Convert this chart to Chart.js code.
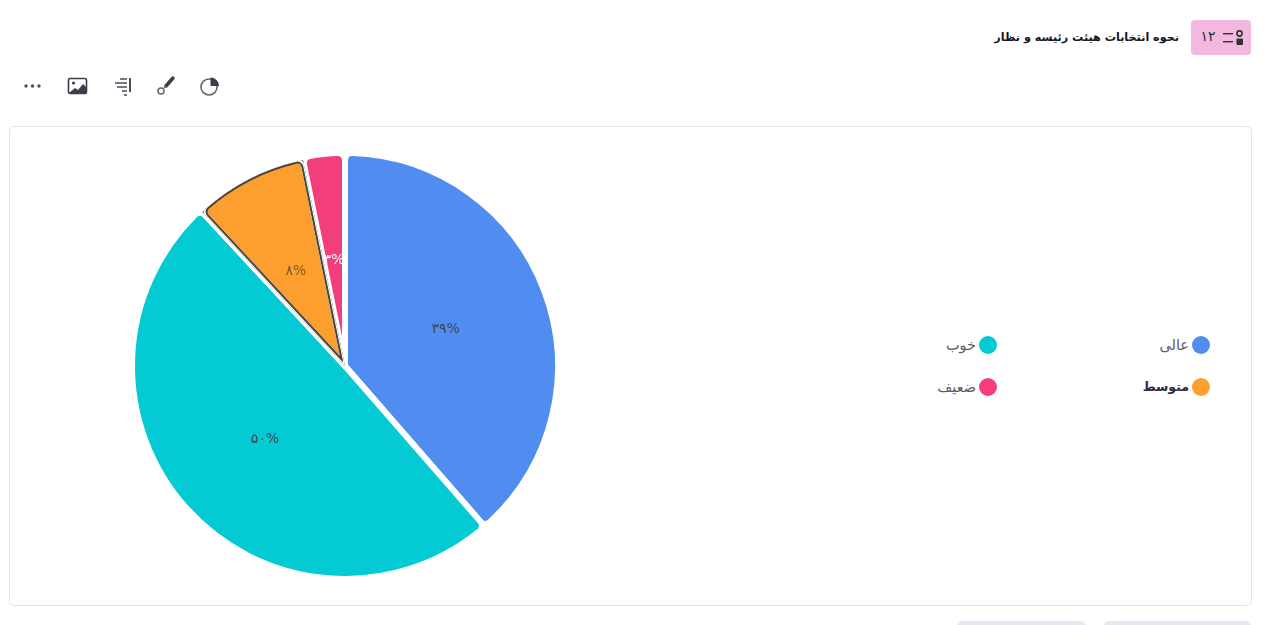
<!DOCTYPE html>
<html lang="fa">
<head>
<meta charset="utf-8">
<script src="https://cdn.jsdelivr.net/npm/chart.js@4"></script>
<style>
html,body{margin:0;padding:0;background:#fff;width:1280px;height:625px;overflow:hidden;font-family:"DejaVu Sans","Noto Sans",sans-serif}
.abs{position:absolute}
#card{left:9px;top:126px;width:1241px;height:478px;border:1px solid #dfe5ea;border-radius:5px;box-sizing:content-box}
#wrap{left:100px;top:126px;width:490px;height:480px}
#badge{left:1191px;top:20px;width:60px;height:35px;background:#f2b8df;border-radius:4px}
#num{left:1195px;top:28px;width:26px;text-align:center;font-size:14px;color:#2b2b35}
#title{right:101px;top:31px;font-size:11.2px;font-weight:700;color:#17171f;white-space:nowrap;direction:rtl}
.btn{top:621px;height:20px;background:#e8e6f4;border-radius:5px}
.dot{width:18px;height:18px;border-radius:50%}
.leg{font-size:14.500px;white-space:nowrap;direction:rtl;color:#5a5a64;line-height:18px}
</style>
</head>
<body>
<div id="card" class="abs"></div>
<div id="wrap" class="abs"><canvas id="c"></canvas></div>

<div id="badge" class="abs"></div>
<div id="num" class="abs">۱۲</div>
<svg class="abs" style="left:1222px;top:28px" width="24" height="20" viewBox="0 0 24 20">
  <rect x="1" y="5" width="10" height="1.400" fill="#333"/><rect x="1" y="13" width="10" height="1.400" fill="#333"/>
  <circle cx="17.500" cy="5.500" r="2.600" fill="none" stroke="#333" stroke-width="1.600"/><rect x="14.500" y="10.500" width="6.500" height="6.500" rx="1" fill="#333"/>
</svg>
<div id="title" class="abs">نحوه انتخابات هیئت رئیسه و نظار</div>

<svg class="abs" style="left:20px;top:74px" width="210" height="24" viewBox="0 0 210 24">
  <g fill="#4a4e5a"><circle cx="6" cy="12" r="1.700"/><circle cx="12.500" cy="12" r="1.700"/><circle cx="19" cy="12" r="1.700"/></g>
  <rect x="48.500" y="4.500" width="18" height="15" rx="1.500" fill="#fff" stroke="#3a3e4c" stroke-width="1.600"/>
  <path d="M49 19l6-5 3 2 5-6 4 4v5z" fill="#3a3e4c"/><circle cx="53.500" cy="9" r="1.600" fill="#3a3e4c"/>
  <g stroke="#4a4e5a" stroke-width="1.400" fill="none"><path d="M110 4v14" stroke-width="2"/><path d="M100 5h7M95 9h12M97 13h10M102 17h5M104 21h3"/></g>
  <path d="M153 4l-7 8" stroke="#3a3e4c" stroke-width="3.500" stroke-linecap="round"/>
  <circle cx="141" cy="17" r="3" fill="none" stroke="#666" stroke-width="1.500"/><path d="M144 14l2-2" stroke="#666" stroke-width="1.500"/>
  <circle cx="189" cy="13" r="8" fill="none" stroke="#666" stroke-width="1.600"/><path d="M190.500 3.500a8.500 8.500 0 0 1 8.500 8.500h-8.500z" fill="#3a3e4c"/>
</svg>

<div class="abs btn" style="left:957px;width:129px"></div>
<div class="abs btn" style="left:1104px;width:147px"></div>

<div id="legend"></div>

<script>
const categories = ["عالی", "خوب", "متوسط", "ضعیف"];
const seriesValues = [38.6, 49.5, 8.7, 3.2];
const valueLabels = ["۳۹%", "۵۰%", "۸%", "۳%"];
const sliceColors = ["#518df0", "#03cad3", "#fd9f2e", "#f23f7c"];
const labelColors = ["#3f4653", "#3f4653", "#7a5a2c", "#ffffff"];
const activeCategory = "متوسط";
const gapWidth = 6;
const outlineColor = "#454545";

// Dark outline of the highlighted slice, drawn over its white gap border
const activeOutline = {
  id: "activeOutline",
  afterDatasetsDraw(chart) {
    const ctx = chart.ctx;
    const arc = chart.getDatasetMeta(0).data[categories.indexOf(activeCategory)];
    const base = arc.options;
    const r = arc.outerRadius;
    const half = gapWidth / 2;
    ctx.save();
    ctx.beginPath();
    ctx.moveTo(arc.x, arc.y);
    ctx.arc(arc.x, arc.y, r - half, arc.startAngle, arc.endAngle);
    ctx.closePath();
    ctx.clip();
    arc.outerRadius = r - 2;
    [[gapWidth, outlineColor], [2, "#ffffff"]].forEach(([w, col]) => {
      arc.options = Object.assign({}, base, { backgroundColor: "rgba(0,0,0,0)", borderColor: col, borderWidth: w, borderAlign: "center", borderJoinStyle: "round" });
      arc.draw(ctx);
    });
    arc.outerRadius = r;
    arc.options = base;
    ctx.restore();
  }
};

const sliceLabels = {
  id: "sliceLabels",
  afterDatasetsDraw(chart) {
    const ctx = chart.ctx;
    const arcs = chart.getDatasetMeta(0).data;
    arcs.forEach((arc, i) => {
      const mid = (arc.startAngle + arc.endAngle) / 2;
      const r = arc.outerRadius * 0.505;
      ctx.save();
      if (i === arcs.length - 1) {           // the last label slips under the first slice
        ctx.beginPath();
        ctx.rect(0, 0, arc.x - 2, chart.height);
        ctx.clip();
      }
      ctx.font = '14px "DejaVu Sans", sans-serif';
      ctx.fillStyle = labelColors[i];
      ctx.textAlign = "center";
      ctx.textBaseline = "middle";
      ctx.direction = "ltr";
      ctx.fillText(valueLabels[i], arc.x + Math.cos(mid) * r, arc.y + Math.sin(mid) * r + 1);
      ctx.restore();
    });
  }
};

new Chart(document.getElementById("c"), {
  type: "pie",
  data: {
    labels: categories,
    datasets: [{
      data: seriesValues,
      backgroundColor: sliceColors,
      borderColor: "#ffffff",
      borderWidth: gapWidth,
      borderAlign: "center",
      borderJoinStyle: "round",
      borderRadius: 7,
      hoverOffset: 0
    }]
  },
  options: {
    responsive: true,
    maintainAspectRatio: false,
    animation: false,
    events: [],
    layout: { padding: 24 },
    plugins: { legend: { display: false }, tooltip: { enabled: false } }
  },
  plugins: [activeOutline, sliceLabels]
});

// legend: two columns, filled right to left
const legendColumns = [1201, 988];
const legendRows = [345, 387];
const host = document.getElementById("legend");
categories.forEach((name, i) => {
  const cx = legendColumns[i % 2], cy = legendRows[Math.floor(i / 2)];
  const dot = document.createElement("div");
  dot.className = "abs dot";
  dot.style.cssText = `left:${cx - 9}px;top:${cy - 9}px;background:${sliceColors[i]}`;
  const t = document.createElement("div");
  t.className = "abs leg";
  t.textContent = name;
  t.style.cssText = `right:${1280 - cx + 12}px;top:${cy - 9}px` +
    (name === activeCategory ? ";font-weight:700;color:#2a2d3e;font-size:12.500px" : "");
  host.append(dot, t);
});
</script>
</body>
</html>
